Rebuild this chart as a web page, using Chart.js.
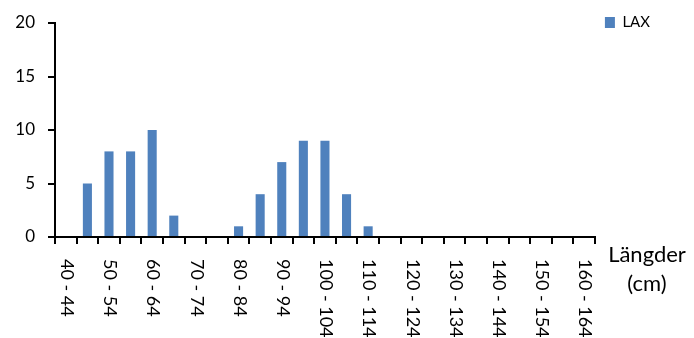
<!DOCTYPE html>
<html>
<head>
<meta charset="utf-8">
<script src="https://cdn.jsdelivr.net/npm/chart.js@4/dist/chart.umd.min.js"></script>
<style>
  html, body { margin: 0; padding: 0; background: #fff; }
  #wrap { width: 694px; height: 338px; }
</style>
</head>
<body>
<div id="wrap"><canvas id="c" width="694" height="338"></canvas></div>
<script>
// Length classes (cm), 5 cm bins
const categories = [
  '40 - 44', '45 - 49', '50 - 54', '55 - 59', '60 - 64', '65 - 69', '70 - 74',
  '75 - 79', '80 - 84', '85 - 89', '90 - 94', '95 - 99', '100 - 104', '105 - 109',
  '110 - 114', '115 - 119', '120 - 124', '125 - 129', '130 - 134', '135 - 139',
  '140 - 144', '145 - 149', '150 - 154', '155 - 159', '160 - 164'
];
// Number of salmon per length class
const laxCounts = [0, 5, 8, 8, 10, 2, 0, 0, 1, 4, 7, 9, 9, 4, 1, 0, 0, 0, 0, 0, 0, 0, 0, 0, 0];
const yTicks = [0, 5, 10, 15, 20];
const seriesName = 'LAX';
const axisTitle = ['Längder', '(cm)'];

const FONT = 'Lato, Carlito, "Open Sans", sans-serif';
const BAR_COLOR = '#4F81BD';

// Rotated category labels (reading downward) and the axis title on the right
const labelPlugin = {
  id: 'sideLabels',
  afterDraw(chart) {
    const ctx = chart.ctx;
    const x = chart.scales.x;
    const area = chart.chartArea;
    ctx.save();
    ctx.fillStyle = '#000';
    ctx.font = '18px ' + FONT;
    categories.forEach((lab, i) => {
      if (i % 2 !== 0) return;
      const px = x.getPixelForValue(i);
      ctx.save();
      ctx.translate(px + 1, area.bottom + 22);
      ctx.rotate(Math.PI / 2);
      ctx.textAlign = 'left';
      ctx.textBaseline = 'middle';
      ctx.fillText(lab, 0, 0);
      ctx.restore();
    });
    ctx.font = '22px ' + FONT;
    ctx.textAlign = 'center';
    ctx.textBaseline = 'middle';
    ctx.fillText(axisTitle[0], 647, 255);
    ctx.fillText(axisTitle[1], 647, 284);
    ctx.restore();
  }
};

new Chart(document.getElementById('c'), {
  type: 'bar',
  data: {
    labels: categories,
    datasets: [{
      label: seriesName,
      data: laxCounts,
      backgroundColor: BAR_COLOR,
      borderWidth: 0,
      categoryPercentage: 1.0,
      barPercentage: 0.42
    }]
  },
  options: {
    responsive: false,
    animation: false,
    events: [],
    layout: { padding: { top: 5, right: 34, left: 0, bottom: 0 } },
    plugins: {
      tooltip: { enabled: false },
      legend: {
        display: true,
        position: 'right',
        align: 'start',
        labels: {
          boxWidth: 10,
          boxHeight: 11,
          padding: 10,
          color: '#000',
          font: { family: FONT, size: 15 }
        }
      }
    },
    scales: {
      x: {
        ticks: { display: false },
        grid: {
          offset: true,
          drawOnChartArea: false,
          drawTicks: true,
          tickLength: 7,
          color: '#000',
          lineWidth: 2
        },
        border: { display: true, color: '#000', width: 2 },
        afterFit(scale) { scale.height = 101; }
      },
      y: {
        min: 0,
        max: 20,
        afterBuildTicks(scale) { scale.ticks = yTicks.map(v => ({ value: v })); },
        ticks: {
          color: '#000',
          padding: 13,
          font: { family: FONT, size: 17 }
        },
        grid: {
          drawOnChartArea: false,
          drawTicks: true,
          tickLength: 7,
          color: '#000',
          lineWidth: 2
        },
        border: { display: true, color: '#000', width: 2 },
        afterFit(scale) { scale.width = 55; scale.paddingTop = 23; }
      }
    }
  },
  plugins: [labelPlugin]
});
</script>
</body>
</html>
